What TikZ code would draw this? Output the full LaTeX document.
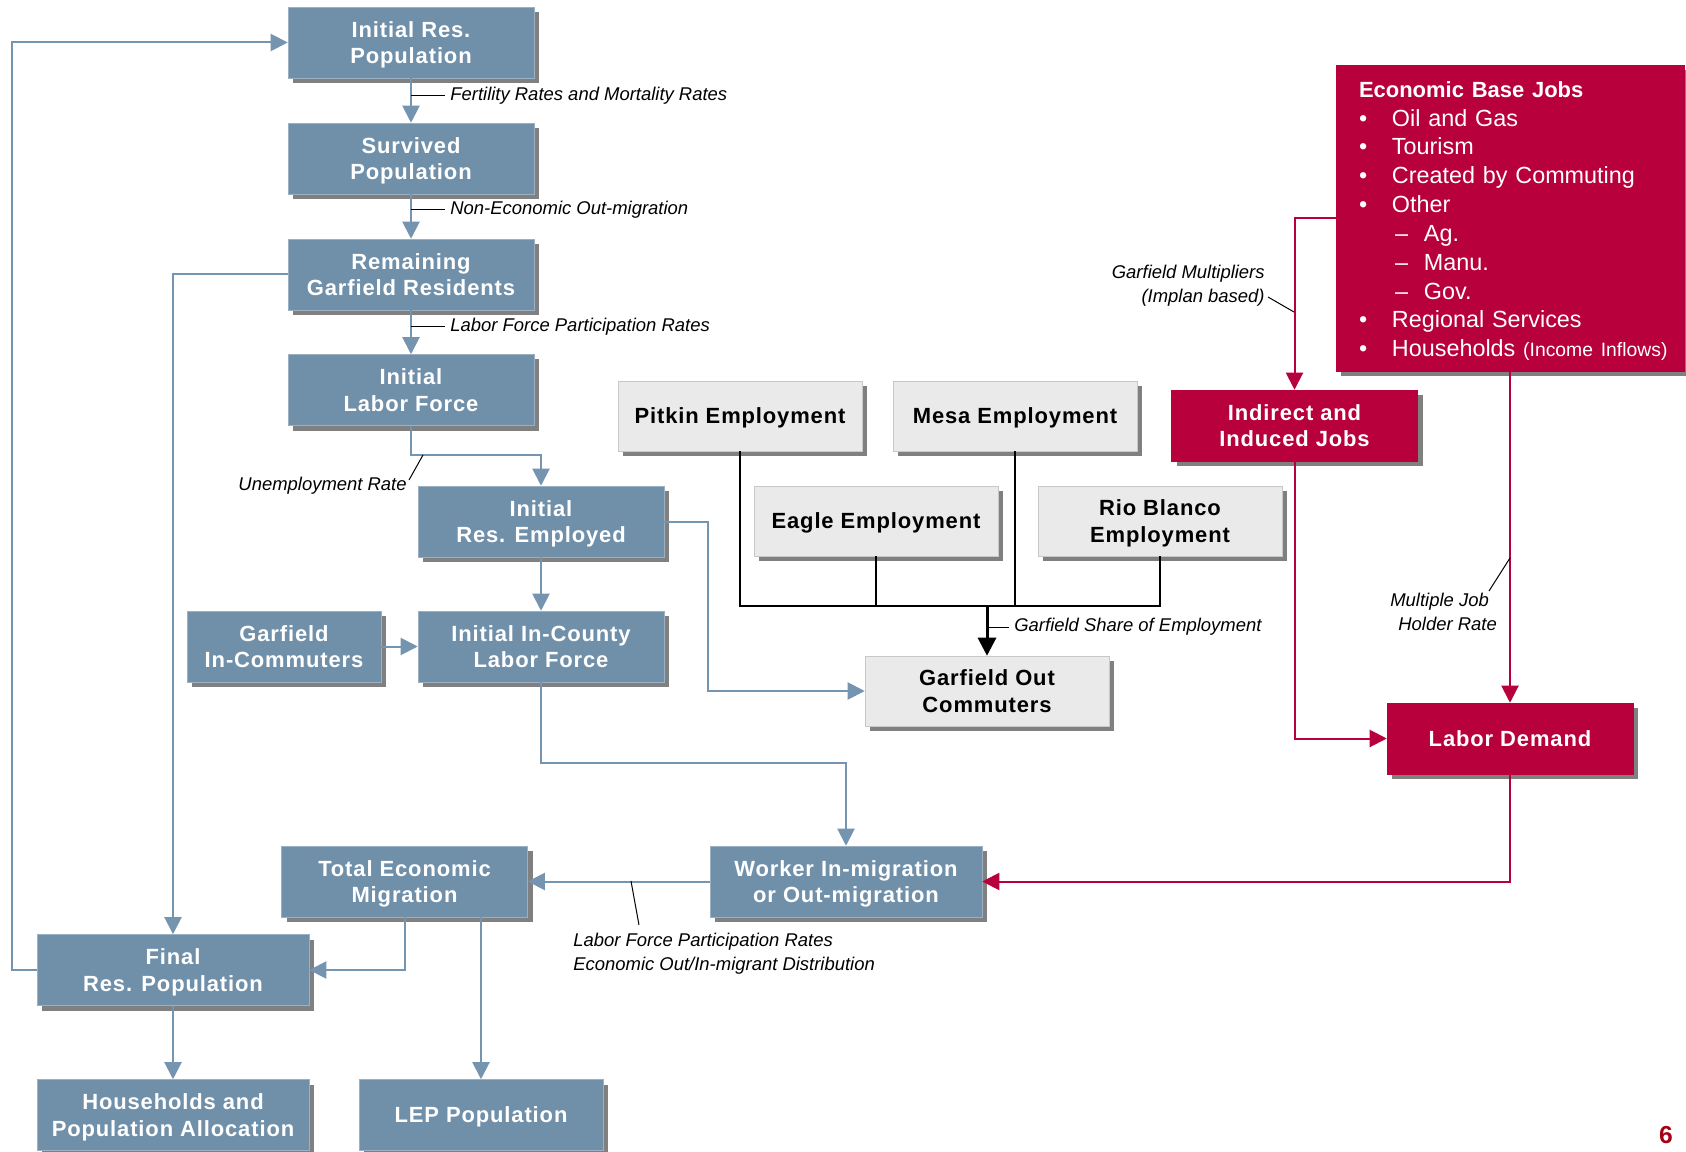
\documentclass[tikz,border=0pt]{standalone}
\usepackage{fontspec}
\setmainfont{Liberation Sans}
\newfontfamily\boxfont{Liberation Sans}[LetterSpace=4]
\usetikzlibrary{arrows.meta,shadows}
\definecolor{steel}{RGB}{112,144,170}
\definecolor{steelline}{RGB}{117,148,176}
\definecolor{jobred}{RGB}{184,0,60}
\definecolor{empgray}{RGB}{234,234,234}
\definecolor{empedge}{RGB}{200,200,200}
\definecolor{shade}{RGB}{128,128,128}
\definecolor{pagered}{RGB}{165,0,20}
\newcommand{\bul}{\makebox[6.6mm][l]{\textbullet}}
\newcommand{\dashitem}{\hspace*{7.2mm}\makebox[5.8mm][l]{--}}

\begin{document}
\begin{tikzpicture}[x=0.2mm, y=0.2mm, >={Triangle[length=3.4mm,width=3.4mm]},
  popbox/.style={rectangle, fill=steel, draw=steel!70!white, line width=0.3pt, text=white, align=center, inner sep=1pt,
    font=\boxfont\bfseries\fontsize{12.5}{15}\selectfont, minimum width=49.2mm, minimum height=14.2mm, text depth=0pt,
    drop shadow={shadow xshift=1mm, shadow yshift=-1mm, fill=shade, opacity=1}},
  empbox/.style={popbox, fill=empgray, draw=empedge, text=black, minimum width=48.8mm, minimum height=14mm},
  jobbox/.style={popbox, fill=jobred, draw=jobred},
  basebox/.style={rectangle, fill=jobred, draw=jobred, text=white, font=\fontsize{13.3}{16.4}\selectfont,
    align=left, text width=60.4mm, minimum width=69.6mm, minimum height=61.2mm, inner xsep=4.6mm, inner ysep=1pt,
    drop shadow={shadow xshift=1mm, shadow yshift=-1mm, fill=shade, opacity=1}},
  flow/.style={->, draw=steelline, line width=0.4mm},
  redflow/.style={->, draw=jobred, line width=0.4mm},
  empline/.style={draw=black, line width=0.35mm},
  note/.style={font=\itshape\fontsize{10.5}{13.5}\selectfont, inner sep=1mm},
  leader/.style={draw=black, line width=0.2mm}]

\useasboundingbox (0,0) rectangle (1686,-1152);

\node[popbox] (initpop) at (411,-42.5) {Initial Res.\\Population};
\node[popbox] (survpop) at (411,-158.5) {Survived\\Population};
\node[popbox] (remain) at (411,-274.5) {Remaining\\Garfield Residents};
\node[popbox] (initlf) at (411,-390) {Initial\\Labor Force};
\node[popbox] (resemp) at (541,-521.5) {Initial\\Res. Employed};
\node[popbox] (incounty) at (541,-646.5) {Initial In-County\\Labor Force};
\node[popbox, minimum width=38.8mm] (incomm) at (284,-646.5) {Garfield\\In-Commuters};
\node[popbox] (totmig) at (404.5,-881.5) {Total Economic\\Migration};
\node[popbox, minimum width=54.4mm] (worker) at (846,-881.5) {Worker In-migration\\or Out-migration};
\node[popbox, minimum width=54.4mm] (finalpop) at (173,-970) {Final\\Res. Population};
\node[popbox, minimum width=54.4mm] (hhalloc) at (173,-1115) {Households and\\Population Allocation};
\node[popbox, minimum width=48.8mm] (lep) at (481,-1115) {LEP Population};

\node[empbox] (pitkin) at (740,-416) {Pitkin Employment};
\node[empbox] (mesa) at (1015,-416) {Mesa Employment};
\node[empbox] (eagle) at (876,-521) {Eagle Employment};
\node[empbox] (rio) at (1160,-521) {Rio Blanco\\Employment};
\node[empbox] (gout) at (987,-691) {Garfield Out\\Commuters};

\node[basebox] (econ) at (1510,-218) {{\fontsize{12.5}{16.4}\selectfont\bfseries Economic Base Jobs}\\
  \bul Oil and Gas\\
  \bul Tourism\\
  \bul Created by Commuting\\
  \bul Other\\
  \dashitem Ag.\\
  \dashitem Manu.\\
  \dashitem Gov.\\
  \bul Regional Services\\
  \bul \mbox{Households {\fontsize{11}{16.4}\selectfont(Income Inflows)}}\par\vspace*{-1.2mm}};
\node[jobbox] (indirect) at (1294.5,-425.5) {Indirect and\\Induced Jobs};
\node[jobbox] (labordem) at (1510,-738.5) {Labor Demand};

\node[note, anchor=west] (fert) at (445,-96) {Fertility Rates and Mortality Rates};
\node[note, anchor=west] (nonecon) at (445,-210) {Non-Economic Out-migration};
\node[note, anchor=west] (lfpr) at (445,-327) {Labor Force Participation Rates};
\node[note, anchor=east] (unemp) at (412,-486) {Unemployment Rate};
\node[note, anchor=west] (share) at (1009,-627) {Garfield Share of Employment};
\node[note, anchor=east, align=right] (gmult) at (1270,-286) {Garfield Multipliers\\(Implan based)};
\node[note, anchor=west, align=left] (mjob) at (1385,-612) {Multiple Job\\\hspace*{1.6mm}Holder Rate};
\node[note, anchor=west, align=left] (migdist) at (568,-954) {Labor Force Participation Rates\\Economic Out/In-migrant Distribution};
\node[font=\bfseries\fontsize{14}{16}\selectfont, text=pagered] (pagenum) at (1666,-1135) {6};

\coordinate (bus) at (987,-606);
\coordinate (uleadA) at (409,-480);
\coordinate (uleadB) at (423,-455);
\coordinate (gleadA) at (1268,-297);
\coordinate (gleadB) at (1294,-312);
\coordinate (mleadA) at (1489,-591);
\coordinate (mleadB) at (1510,-558);
\coordinate (dleadA) at (639,-925);
\coordinate (dleadB) at (631,-881);

\draw[flow] (initpop) -- (survpop);
\draw[flow] (survpop) -- (remain);
\draw[flow] (remain) -- (initlf);
\draw[flow] (initlf.south) -- ++(0,-29) -| (resemp.north);
\draw[flow] (resemp) -- (incounty);
\draw[flow] (incomm) -- (incounty);
\draw[flow] (resemp.east) -- ++(44,0) |- (gout.west);
\draw[flow] (incounty.south) -- ++(0,-81) -| (worker.north);
\draw[flow] (worker) -- (totmig);
\draw[flow] (totmig.south) |- (finalpop.east);
\draw[flow] (totmig.south -| lep.north) -- (lep.north);
\draw[flow] (finalpop) -- (hhalloc);
\draw[flow] (finalpop.west) -- ++(-25,0) |- (initpop.west);
\draw[flow] (remain.west) -| (finalpop.north);

\draw[empline] (pitkin.south) |- (bus) -| (rio.south);
\draw[empline] (eagle.south) -- (eagle.south |- bus);
\draw[empline] (mesa.south) -- (mesa.south |- bus);
\draw[empline, line width=0.6mm, -{Triangle[length=3.6mm,width=3.6mm]}] (bus) -- (gout.north);

\draw[redflow] (econ.west) -| (indirect.north);
\draw[redflow] (econ.south) -- (labordem.north);
\draw[redflow] (indirect.south) |- (labordem.west);
\draw[redflow] (labordem.south) |- (worker.east);

\draw[leader] (initpop.south |- fert.west) -- (fert.west);
\draw[leader] (survpop.south |- nonecon.west) -- (nonecon.west);
\draw[leader] (remain.south |- lfpr.west) -- (lfpr.west);
\draw[leader] (bus |- share.west) -- (share.west);
\draw[leader] (uleadA) -- (uleadB);
\draw[leader] (gleadA) -- (gleadB);
\draw[leader] (mleadA) -- (mleadB);
\draw[leader] (dleadA) -- (dleadB);
\end{tikzpicture}
\end{document}
